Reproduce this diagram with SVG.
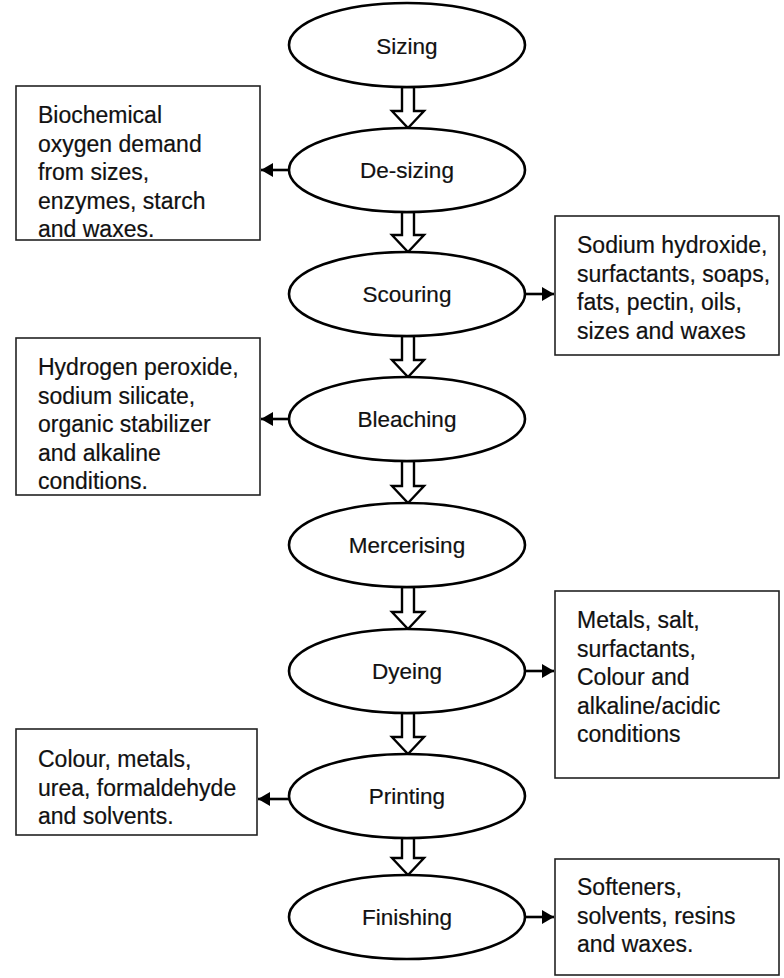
<svg xmlns="http://www.w3.org/2000/svg" width="784" height="978" viewBox="0 0 784 978">
<defs>
<style>
.ell{fill:#fff;stroke:#000;stroke-width:2.6}
.box{fill:#fff;stroke:#222;stroke-width:1.6}
.lbl{font-family:"Liberation Sans",Arial,sans-serif;font-size:22.5px;fill:#111;stroke:#111;stroke-width:0.2;text-anchor:middle}
.txt{font-family:"Liberation Sans",Arial,sans-serif;font-size:23px;fill:#111;stroke:#111;stroke-width:0.2}
.flow{fill:#fff;stroke:#000;stroke-width:2.4;stroke-linejoin:miter}
.con{stroke:#000;stroke-width:2.6;fill:none}
</style>
<marker id="ah" viewBox="0 0 12 14" refX="12" refY="7" markerWidth="12" markerHeight="14" markerUnits="userSpaceOnUse" orient="auto">
<path d="M0,0 L12,7 L0,14 Z" fill="#000"/>
</marker>
</defs>
<rect width="784" height="978" fill="#fff"/>

<g id="box-desizing">
<rect class="box" x="16" y="86" width="244" height="154"/>
<text class="txt" x="38" y="123">Biochemical</text>
<text class="txt" x="38" y="151.5">oxygen demand</text>
<text class="txt" x="38" y="180">from sizes,</text>
<text class="txt" x="38" y="208.5">enzymes, starch</text>
<text class="txt" x="38" y="237">and waxes.</text>
</g>
<g id="box-scouring">
<rect class="box" x="555" y="216" width="224" height="139"/>
<text class="txt" x="577" y="253">Sodium hydroxide,</text>
<text class="txt" x="577" y="281.5">surfactants, soaps,</text>
<text class="txt" x="577" y="310">fats, pectin, oils,</text>
<text class="txt" x="577" y="338.5">sizes and waxes</text>
</g>
<g id="box-bleaching">
<rect class="box" x="16" y="338" width="244" height="157"/>
<text class="txt" x="38" y="375">Hydrogen peroxide,</text>
<text class="txt" x="38" y="403.5">sodium silicate,</text>
<text class="txt" x="38" y="432">organic stabilizer</text>
<text class="txt" x="38" y="460.5">and alkaline</text>
<text class="txt" x="38" y="489">conditions.</text>
</g>
<g id="box-dyeing">
<rect class="box" x="555" y="591" width="224" height="187"/>
<text class="txt" x="577" y="628">Metals, salt,</text>
<text class="txt" x="577" y="656.5">surfactants,</text>
<text class="txt" x="577" y="685">Colour and</text>
<text class="txt" x="577" y="713.5">alkaline/acidic</text>
<text class="txt" x="577" y="742">conditions</text>
</g>
<g id="box-printing">
<rect class="box" x="16" y="729" width="241" height="106"/>
<text class="txt" x="38" y="767">Colour, metals,</text>
<text class="txt" x="38" y="795.5">urea, formaldehyde</text>
<text class="txt" x="38" y="824">and solvents.</text>
</g>
<g id="box-finishing">
<rect class="box" x="555" y="859" width="224" height="116"/>
<text class="txt" x="577" y="895">Softeners,</text>
<text class="txt" x="577" y="923.5">solvents, resins</text>
<text class="txt" x="577" y="952">and waxes.</text>
</g>

<g id="connectors">
<polygon class="flow" points="402,87 414,87 414,111 424,111 408,128 392,111 402,111"/>
<polygon class="flow" points="402,212 414,212 414,235 424,235 408,252 392,235 402,235"/>
<polygon class="flow" points="402,336 414,336 414,360 424,360 408,377 392,360 402,360"/>
<polygon class="flow" points="402,461 414,461 414,486 424,486 408,503 392,486 402,486"/>
<polygon class="flow" points="402,587 414,587 414,612 424,612 408,629 392,612 402,612"/>
<polygon class="flow" points="402,713 414,713 414,737 424,737 408,754 392,737 402,737"/>
<polygon class="flow" points="402,838 414,838 414,858 424,858 408,875 392,858 402,858"/>
<line class="con" x1="289" y1="170" x2="261" y2="170" marker-end="url(#ah)"/>
<line class="con" x1="525" y1="294" x2="554" y2="294" marker-end="url(#ah)"/>
<line class="con" x1="289" y1="419" x2="261" y2="419" marker-end="url(#ah)"/>
<line class="con" x1="525" y1="671" x2="554" y2="671" marker-end="url(#ah)"/>
<line class="con" x1="289" y1="799" x2="258" y2="799" marker-end="url(#ah)"/>
<line class="con" x1="525" y1="917" x2="554" y2="917" marker-end="url(#ah)"/>
</g>

<g id="sizing"><ellipse class="ell" cx="407" cy="45" rx="118" ry="42"/><text class="lbl" x="407" y="54">Sizing</text></g>
<g id="desizing"><ellipse class="ell" cx="407" cy="170" rx="118" ry="42"/><text class="lbl" x="407" y="178">De-sizing</text></g>
<g id="scouring"><ellipse class="ell" cx="407" cy="294" rx="118" ry="42"/><text class="lbl" x="407" y="302">Scouring</text></g>
<g id="bleaching"><ellipse class="ell" cx="407" cy="419" rx="118" ry="42"/><text class="lbl" x="407" y="427">Bleaching</text></g>
<g id="mercerising"><ellipse class="ell" cx="407" cy="545" rx="118" ry="42"/><text class="lbl" x="407" y="553">Mercerising</text></g>
<g id="dyeing"><ellipse class="ell" cx="407" cy="671" rx="118" ry="42"/><text class="lbl" x="407" y="679">Dyeing</text></g>
<g id="printing"><ellipse class="ell" cx="407" cy="796" rx="118" ry="42"/><text class="lbl" x="407" y="804">Printing</text></g>
<g id="finishing"><ellipse class="ell" cx="407" cy="917" rx="118" ry="42"/><text class="lbl" x="407" y="925">Finishing</text></g>
</svg>
